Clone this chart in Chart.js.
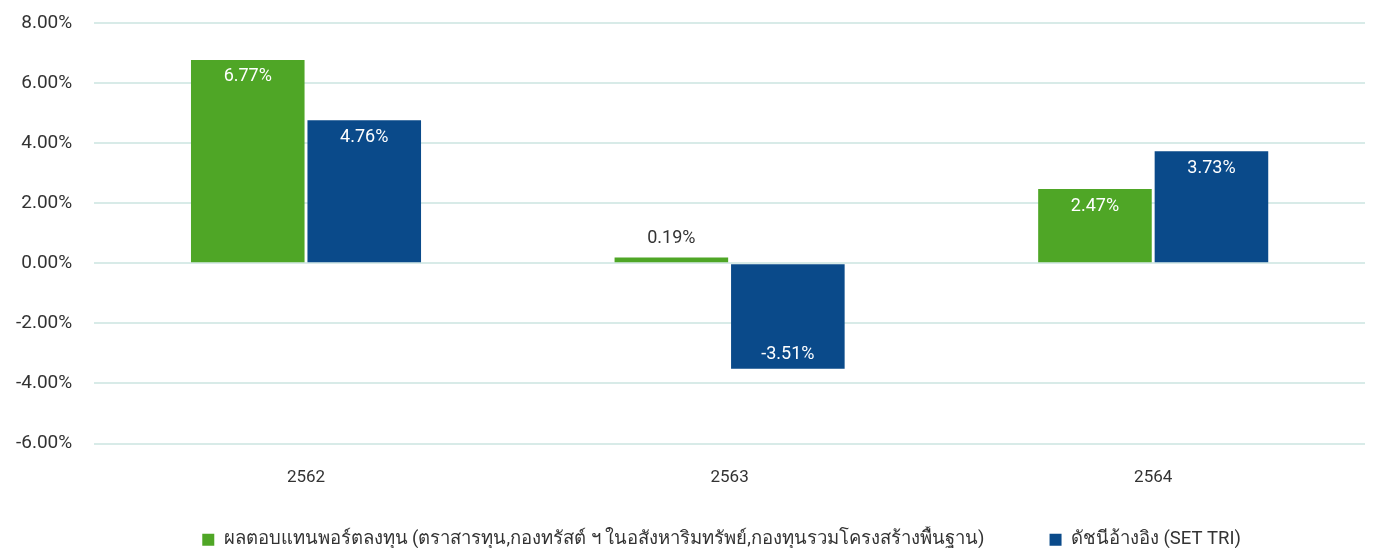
<!DOCTYPE html>
<html>
<head>
<meta charset="utf-8">
<script src="https://cdn.jsdelivr.net/npm/chart.js@4/dist/chart.umd.min.js"></script>
<style>
  html, body { margin: 0; padding: 0; background: #fff; }
  #wrap { width: 1373px; height: 548px; }
</style>
</head>
<body>
<div id="wrap"><canvas id="c" width="1373" height="548"></canvas></div>
<script>
// categories and series
var years = ["2562", "2563", "2564"];
var fundReturn = [6.77, 0.19, 2.47];
var setTri = [4.76, -3.51, 3.73];
var seriesNames = [
  "ผลตอบแทนพอร์ตลงทุน (ตราสารทุน,กองทรัสต์ ฯ ในอสังหาริมทรัพย์,กองทุนรวมโครงสร้างพื้นฐาน)",
  "ดัชนีอ้างอิง (SET TRI)"
];

var FONT = "Roboto, 'Noto Sans', sans-serif";

// value labels drawn on / above the bars
var barLabels = {
  id: "barLabels",
  afterDatasetsDraw: function(chart) {
    var ctx = chart.ctx;
    ctx.save();
    ctx.font = "18px " + FONT;
    ctx.textAlign = "center";
    ctx.textBaseline = "middle";
    chart.data.datasets.forEach(function(ds, i) {
      chart.getDatasetMeta(i).data.forEach(function(bar, j) {
        var v = ds.data[j];
        var txt = v.toFixed(2) + "%";
        var h = Math.abs(bar.base - bar.y);
        if (h < 30) {
          ctx.fillStyle = "#333";
          ctx.fillText(txt, bar.x, bar.y - 19);
        } else if (v >= 0) {
          ctx.fillStyle = "#fff";
          ctx.fillText(txt, bar.x, bar.y + 17);
        } else {
          ctx.fillStyle = "#fff";
          ctx.fillText(txt, bar.x, bar.y - 14);
        }
      });
    });
    ctx.restore();
  }
};

// legend sits roughly centred under the plot area rather than the canvas
var legendShift = {
  id: "legendShift",
  afterLayout: function(chart) {
    var lg = chart.legend;
    var dx = (chart.chartArea.left + chart.chartArea.right) / 2 - (lg.left + lg.right) / 2 - 8;
    lg.left += dx;
    lg.right += dx;
  }
};

new Chart(document.getElementById("c"), {
  type: "bar",
  data: {
    labels: years,
    datasets: [
      { label: seriesNames[0], data: fundReturn, backgroundColor: "#4fa626" },
      { label: seriesNames[1], data: setTri, backgroundColor: "#0a4a8a" }
    ]
  },
  options: {
    responsive: false,
    animation: false,
    layout: { padding: { left: -6, right: 8, top: 23, bottom: -11 } },
    datasets: { bar: { categoryPercentage: 0.55, barPercentage: 0.975 } },
    plugins: {
      tooltip: { enabled: false },
      legend: {
        position: "bottom",
        labels: {
          boxWidth: 12, boxHeight: 12, padding: 4,
          color: "#333",
          font: { family: FONT, size: 18.5 },
          generateLabels: function(chart) {
            var items = Chart.defaults.plugins.legend.labels.generateLabels(chart);
            items[0].text = items[0].text + "\u2003\u2003\u2003 ";
            return items;
          }
        }
      }
    },
    scales: {
      x: {
        grid: { display: false },
        border: { display: false },
        ticks: { color: "#333", padding: 16, font: { family: FONT, size: 17 } },
        afterFit: function(s) { s.height = 83; }
      },
      y: {
        min: -6, max: 8,
        grid: { color: "#d8ebe8", lineWidth: 2, drawTicks: false },
        border: { display: false },
        ticks: {
          stepSize: 2, padding: 22, color: "#333",
          font: { family: FONT, size: 19 },
          callback: function(v) { return v.toFixed(2) + "%"; }
        },
        afterFit: function(s) { s.paddingTop = 10; s.paddingBottom = 0; }
      }
    }
  },
  plugins: [barLabels, legendShift]
});
</script>
</body>
</html>
